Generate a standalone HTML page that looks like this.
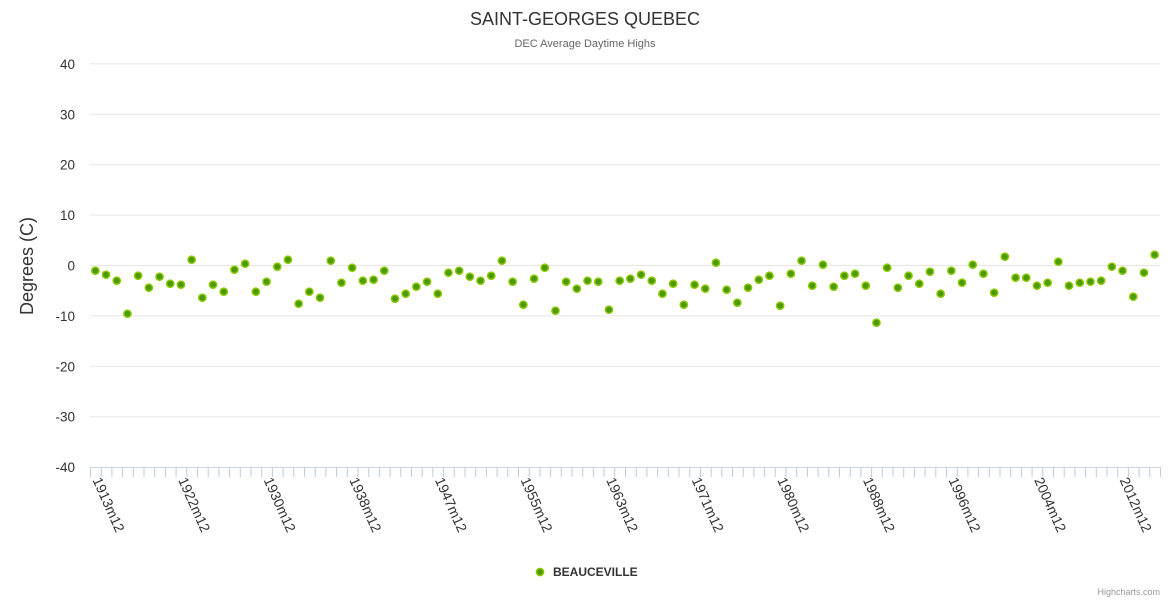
<!DOCTYPE html>
<html><head><meta charset="utf-8"><style>body{margin:0;background:#fff}svg{display:block;font-family:"Liberation Sans",sans-serif}</style></head>
<body>
<svg width="1170" height="600" id="s" xmlns="http://www.w3.org/2000/svg">
<text x="585" y="25" text-anchor="middle" font-size="18" fill="#333">SAINT-GEORGES QUEBEC</text>
<text x="585" y="47" text-anchor="middle" font-size="11" fill="#666">DEC Average Daytime Highs</text>
<text transform="translate(33,266) rotate(-90)" text-anchor="middle" font-size="18" fill="#333">Degrees (C)</text>
<g id="grid"></g>
<g id="pts"></g>
<circle cx="540" cy="572" r="3.6" fill="#4a9a00" stroke="#8cc800" stroke-width="1.5"/>
<text x="553" y="576" font-size="12" font-weight="bold" fill="#333">BEAUCEVILLE</text>
<text x="1160" y="595" text-anchor="end" font-size="9" fill="#999">Highcharts.com</text>
</svg>
<script>
var ns="http://www.w3.org/2000/svg",g=document.getElementById("grid"),p=document.getElementById("pts");
function el(t,a,par){var e=document.createElementNS(ns,t);for(var k in a)e.setAttribute(k,a[k]);(par||g).appendChild(e);return e;}
for(var v=40;v>=-40;v-=10){var y=265.5-v*5.04;
 if(v>-40)el("line",{x1:90,x2:1160,y1:y,y2:y,stroke:"#e6e6e6"});
 var t=el("text",{x:75,y:y+5,"text-anchor":"end","font-size":"13.5",fill:"#333"});t.textContent=v;}
el("line",{x1:90,x2:1160,y1:467.5,y2:467.5,stroke:"#ccd6eb"});
for(var i=0;i<=100;i++){var x=90.5+i*10.7;el("line",{x1:x,x2:x,y1:467,y2:477,stroke:"#bccbe6"});}
var ys=[270.7,274.7,280.7,313.7,275.7,287.7,276.7,283.7,284.7,259.7,297.7,284.7,291.7,269.7,263.7,291.7,281.7,266.7,259.7,303.7,291.7,297.7,260.7,282.7,267.7,280.7,279.7,270.7,298.7,293.7,286.7,281.7,293.7,
272.7,270.7,276.7,280.7,275.7,260.7,281.7,304.7,278.7,267.7,310.7,281.7,288.7,280.7,281.7,309.7,280.7,278.7,274.7,280.7,293.7,283.7,304.7,284.7,288.7,262.7,289.7,302.7,287.7,279.7,275.7,305.7,273.7,260.7,
285.7,264.7,286.7,275.7,273.7,285.7,322.7,267.7,287.7,275.7,283.7,271.7,293.7,270.7,282.7,264.7,273.7,292.7,256.7,277.7,277.7,285.7,282.7,261.7,285.7,282.7,281.7,280.7,266.7,270.7,296.7,272.7,254.7];
ys.forEach(function(y,i){var x=95.35+i*10.7;el("circle",{cx:x,cy:y,r:3.6,fill:"#4a9a00",stroke:"#8cc800","stroke-width":1.5},p);});
var lab=["1913m12","1922m12","1930m12","1938m12","1947m12","1955m12","1963m12","1971m12","1980m12","1988m12","1996m12","2004m12","2012m12"];
lab.forEach(function(s,k){var x=95.35+k*8*10.7-3;var t=el("text",{transform:"translate("+x+",480) rotate(66)","font-size":"14",fill:"#333"});t.textContent=s;});
</script>
</body></html>
